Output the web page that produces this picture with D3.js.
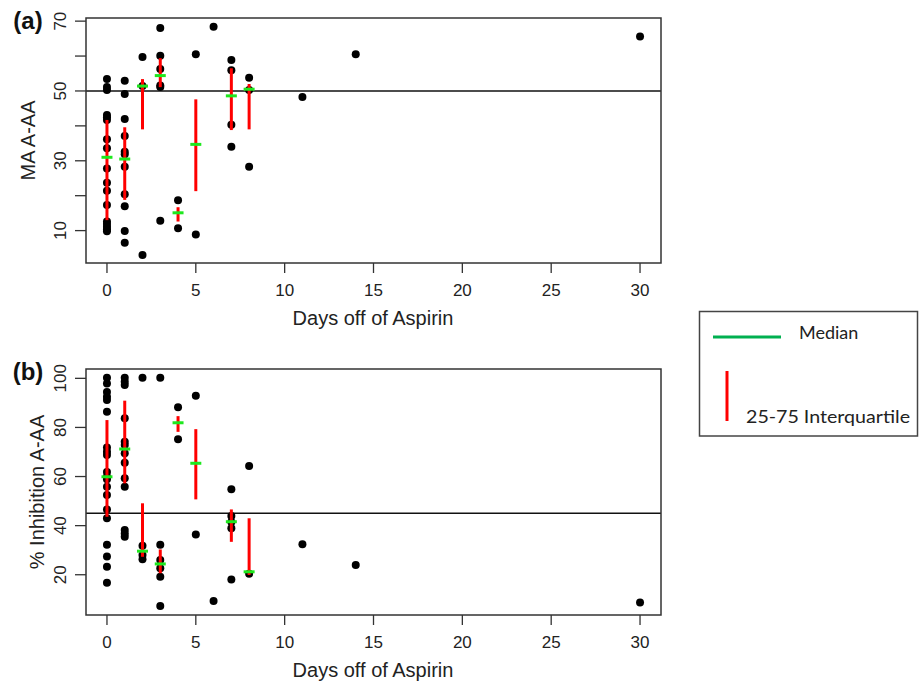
<!DOCTYPE html>
<html>
<head>
<meta charset="utf-8">
<script src="https://cdn.jsdelivr.net/npm/d3@7"></script>
<style>
  body { margin: 0; background: #fff; }
  svg { display: block; }
</style>
</head>
<body>
<div id="chart"></div>
<script>
const W = 920, H = 684;

// x ticks shared by both panels
const dayTicks = [0, 5, 10, 15, 20, 25, 30];

// panel (a) MA A-AA points: [day, value]
const maPoints = [
  [0, 53.4], [0, 51.1], [0, 50.3], [0, 43.1], [0, 42.5], [0, 41.7], [0, 36.2], [0, 33.6],
  [0, 27.8], [0, 23.7], [0, 21.4], [0, 17.3], [0, 12.6], [0, 11.9], [0, 11.1], [0, 10.4], [0, 9.8],
  [1, 52.9], [1, 49.1], [1, 42.0], [1, 37.1], [1, 32.6], [1, 31.9], [1, 28.3], [1, 20.4],
  [1, 17.0], [1, 9.9], [1, 6.5],
  [2, 59.7], [2, 51.4], [2, 3.0],
  [3, 68.0], [3, 60.1], [3, 56.3], [3, 51.6], [3, 51.1], [3, 12.8],
  [4, 18.7], [4, 10.7],
  [5, 60.5], [5, 8.9],
  [6, 68.4],
  [7, 58.9], [7, 55.9], [7, 40.3], [7, 34.0],
  [8, 53.8], [8, 50.3], [8, 28.3],
  [11, 48.3], [14, 60.5], [30, 65.6]
];

// panel (b) % inhibition A-AA points: [day, value]
const inhPoints = [
  [0, 100.2], [0, 97.9], [0, 94.4], [0, 92.5], [0, 91.2], [0, 86.4], [0, 71.8], [0, 70.1],
  [0, 68.8], [0, 61.8], [0, 59.9], [0, 58.9], [0, 55.8], [0, 52.5], [0, 46.6], [0, 43.0],
  [0, 32.2], [0, 27.4], [0, 23.3], [0, 16.7],
  [1, 100.2], [1, 98.6], [1, 97.3], [1, 83.7], [1, 74.2], [1, 72.8], [1, 69.5], [1, 65.6],
  [1, 59.3], [1, 55.8], [1, 38.2], [1, 36.8], [1, 35.5],
  [2, 100.2], [2, 31.8], [2, 28.0], [2, 26.3],
  [3, 100.2], [3, 32.2], [3, 26.0], [3, 22.6], [3, 19.2], [3, 7.3],
  [4, 88.2], [4, 75.2],
  [5, 92.9], [5, 36.4],
  [6, 9.3],
  [7, 54.8], [7, 43.9], [7, 41.5], [7, 38.9], [7, 18.1],
  [8, 64.3], [8, 20.4],
  [11, 32.4], [14, 24.0], [30, 8.7]
];

// summary days with median / IQR marks
const summaryDays = [0, 1, 2, 3, 4, 5, 7, 8];
const maMedian = [31.0, 30.5, 51.4, 54.4, 15.1, 34.7, 48.6, 50.5];
const maQ1 = [13.0, 18.8, 39.0, 51.1, 12.6, 21.3, 38.8, 39.0];
const maQ3 = [41.7, 39.6, 53.4, 59.4, 16.7, 47.6, 56.5, 52.0];
const inhMedian = [59.9, 71.2, 29.6, 24.4, 81.9, 65.4, 41.6, 21.2];
const inhQ1 = [43.6, 57.2, 27.3, 20.6, 78.2, 50.7, 33.4, 19.9];
const inhQ3 = [83.0, 90.9, 49.1, 30.3, 84.6, 79.3, 46.6, 43.0];

const svg = d3.select("#chart").append("svg")
  .attr("width", W)
  .attr("height", H)
  .style("font-family", "'Liberation Sans', Arial, sans-serif");

const x = d3.scaleLinear().domain([-1.18, 31.18]).range([86, 661]);

function drawPanel(cfg) {
  const y = d3.scaleLinear().domain(cfg.domain).range([cfg.bottom, cfg.top]);
  const g = svg.append("g");

  // y ticks
  g.selectAll(".ytick").data(cfg.yTicks).enter().append("line")
    .attr("x1", 75).attr("x2", 86)
    .attr("y1", (d) => y(d)).attr("y2", (d) => y(d))
    .attr("stroke", "#333").attr("stroke-width", 1.3);
  g.selectAll(".ylab").data(cfg.yLabels).enter().append("text")
    .attr("transform", (d) => "translate(" + [66, y(d)] + ") rotate(-90)")
    .attr("text-anchor", "middle")
    .attr("font-size", 17)
    .attr("fill", "#222")
    .text((d) => d);

  // x ticks
  g.selectAll(".xtick").data(dayTicks).enter().append("line")
    .attr("x1", (d) => x(d)).attr("x2", (d) => x(d))
    .attr("y1", cfg.bottom).attr("y2", cfg.bottom + 10)
    .attr("stroke", "#333").attr("stroke-width", 1.3);
  g.selectAll(".xlab").data(dayTicks).enter().append("text")
    .attr("x", (d) => x(d))
    .attr("y", cfg.bottom + 33)
    .attr("text-anchor", "middle")
    .attr("font-size", 17)
    .attr("fill", "#222")
    .text((d) => d);

  // axis titles
  g.append("text")
    .attr("x", 373).attr("y", cfg.bottom + 62)
    .attr("text-anchor", "middle")
    .attr("font-size", 20)
    .attr("fill", "#222")
    .text("Days off of Aspirin");
  g.append("text")
    .attr("transform", "translate(" + [cfg.titleX, (cfg.top + cfg.bottom) / 2] + ") rotate(-90)")
    .attr("text-anchor", "middle")
    .attr("font-size", 20)
    .attr("fill", "#222")
    .text(cfg.yTitle);

  // panel letter
  g.append("text")
    .attr("x", 28).attr("y", cfg.top + 11)
    .attr("text-anchor", "middle")
    .attr("font-size", 24)
    .attr("font-weight", "bold")
    .attr("fill", "#111")
    .text(cfg.letter);

  // reference line
  g.append("line")
    .attr("x1", 86).attr("x2", 661)
    .attr("y1", y(cfg.ref)).attr("y2", y(cfg.ref))
    .attr("stroke", "#111").attr("stroke-width", 1.5);

  // points
  g.selectAll(".pt").data(cfg.points).enter().append("circle")
    .attr("cx", (d) => x(d[0]))
    .attr("cy", (d) => y(d[1]))
    .attr("r", 4)
    .attr("fill", "#000");

  // IQR bars
  g.selectAll(".iqr").data(summaryDays).enter().append("line")
    .attr("x1", (d) => x(d)).attr("x2", (d) => x(d))
    .attr("y1", (d, i) => y(cfg.q1[i]))
    .attr("y2", (d, i) => y(cfg.q3[i]))
    .attr("stroke", "#ff0000").attr("stroke-width", 3);

  // medians
  g.selectAll(".med").data(summaryDays).enter().append("line")
    .attr("x1", (d) => x(d) - 5.5).attr("x2", (d) => x(d) + 5.5)
    .attr("y1", (d, i) => y(cfg.median[i]))
    .attr("y2", (d, i) => y(cfg.median[i]))
    .attr("stroke", "#1ee81e").attr("stroke-width", 3);

  // box
  g.append("rect")
    .attr("x", 86).attr("y", cfg.top)
    .attr("width", 661 - 86).attr("height", cfg.bottom - cfg.top)
    .attr("fill", "none")
    .attr("stroke", "#333").attr("stroke-width", 1.5);
}

drawPanel({
  letter: "(a)",
  top: 18, bottom: 263,
  domain: [0.72, 70.9],
  yTicks: [10, 20, 30, 40, 50, 60, 70],
  yLabels: [10, 30, 50, 70],
  yTitle: "MA A-AA",
  titleX: 35,
  ref: 50,
  points: maPoints,
  median: maMedian, q1: maQ1, q3: maQ3
});

drawPanel({
  letter: "(b)",
  top: 369, bottom: 615,
  domain: [3.6, 103.8],
  yTicks: [20, 40, 60, 80, 100],
  yLabels: [20, 40, 60, 80, 100],
  yTitle: "% Inhibition A-AA",
  titleX: 44,
  ref: 45,
  points: inhPoints,
  median: inhMedian, q1: inhQ1, q3: inhQ3
});

// legend
const legend = svg.append("g");
legend.append("rect")
  .attr("x", 699.5).attr("y", 311.5)
  .attr("width", 218).attr("height", 124.5)
  .attr("fill", "#fff")
  .attr("stroke", "#444").attr("stroke-width", 1.5);
legend.append("line")
  .attr("x1", 713).attr("x2", 781)
  .attr("y1", 337).attr("y2", 337)
  .attr("stroke", "#00b050").attr("stroke-width", 3);
legend.append("line")
  .attr("x1", 727).attr("x2", 727)
  .attr("y1", 371).attr("y2", 421)
  .attr("stroke", "#ff0000").attr("stroke-width", 3);
legend.append("text")
  .attr("x", 799).attr("y", 339)
  .attr("font-family", "Lato, 'Open Sans', sans-serif")
  .attr("font-size", 18)
  .attr("fill", "#222")
  .text("Median");
legend.append("text")
  .attr("x", 746).attr("y", 423)
  .attr("font-family", "Lato, 'Open Sans', sans-serif")
  .attr("font-size", 18)
  .attr("fill", "#222")
  .attr("textLength", 164)
  .attr("lengthAdjust", "spacingAndGlyphs")
  .text("25-75 Interquartile");
</script>
</body>
</html>
